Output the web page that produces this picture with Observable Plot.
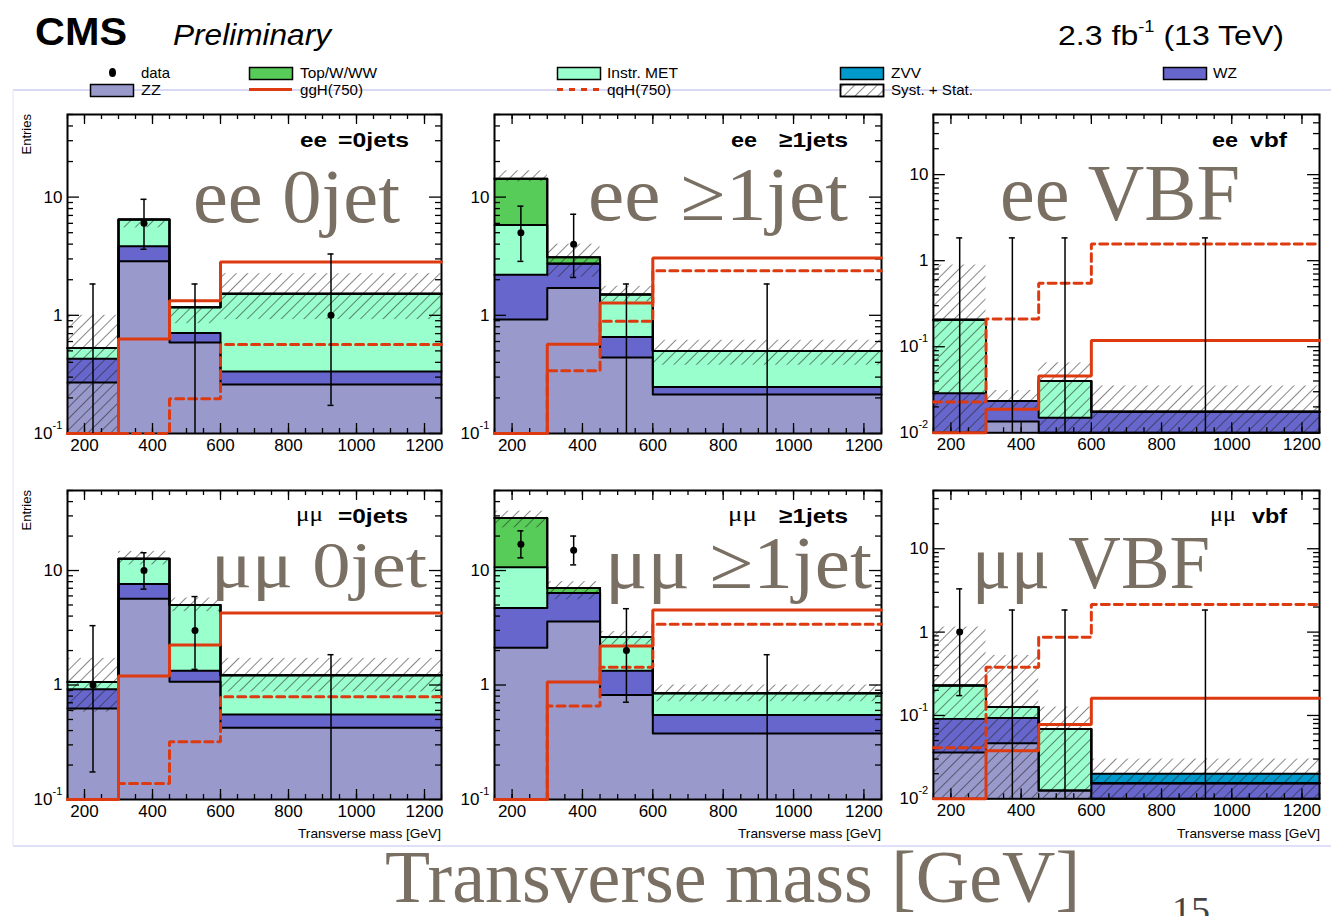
<!DOCTYPE html>
<html><head><meta charset="utf-8">
<script src="https://cdn.jsdelivr.net/npm/d3@7"></script>
<script src="https://cdn.jsdelivr.net/npm/@observablehq/plot@0.6"></script>
<style>
html,body{margin:0;padding:0;background:#fff}
body{width:1331px;height:916px;position:relative;overflow:hidden;font-family:"Liberation Sans",Arial,sans-serif}
.panel{position:absolute}
#overlay{position:absolute;left:0;top:0;pointer-events:none}
</style></head><body>
<script>
// ---------------- data ----------------
const binEdges = [150, 300, 450, 600, 1250];
const binCenters = [225, 375, 525, 925];
const panelLepton = ["ee", "ee", "ee", "μμ", "μμ", "μμ"];
const panelCategory = ["=0jets", "≥1jets", "vbf", "=0jets", "≥1jets", "vbf"];
const panelOverlay = ["ee 0jet", "ee ≥1jet", "ee VBF", "μμ 0jet", "μμ ≥1jet", "μμ VBF"];
const yMin = [0.1, 0.1, 0.01, 0.1, 0.1, 0.01];
const yMax = 50;
const xTickLabels = [200, 400, 600, 800, 1000, 1200];
const yTickValues = [0.01, 0.1, 1, 10];
const yTickBase = ["10", "10", "1", "10"];
const yTickExp = ["-2", "-1", "", ""];

const processNames = ["ZZ", "WZ", "Instr. MET", "Top/W/WW", "ZVV"];
const processColors = ["#9999cc", "#6666cc", "#99ffcc", "#58cc58", "#0099cc"];
const signalColor = "#dd3a10";

// yields per panel (rows) and bin (columns)
const ZZ = [
  [0.27, 2.87, 0.59, 0.26],
  [0.92, 1.70, 0.44, 0.214],
  [0, 0.0135, 0, 0],
  [0.625, 5.66, 1.07, 0.423],
  [2.12, 3.58, 0.82, 0.378],
  [0.036, 0.0465, 0.0126, 0]
];
const WZ = [
  [0.16, 0.97, 0.12, 0.075],
  [1.28, 1.03, 0.216, 0.034],
  [0.0288, 0.0099, 0.015, 0.0175],
  [0.292, 1.96, 0.26, 0.131],
  [2.58, 2.77, 0.51, 0.168],
  [0.055, 0.0465, 0, 0.0154]
];
const InstrMET = [
  [0.10, 2.62, 0.46, 1.19],
  [3.6, 0.02, 0.844, 0.252],
  [0.177, 0, 0.025, 0],
  [0.143, 5.08, 3.67, 0.666],
  [6.0, 0, 1.29, 0.30],
  [0.138, 0.033, 0.0564, 0]
];
const TopWWW = [
  [0, 0, 0, 0],
  [8.5, 0.35, 0, 0],
  [0, 0, 0, 0],
  [0, 0, 0, 0],
  [18.1, 0.68, 0, 0],
  [0, 0, 0, 0]
];
const ZVV = [
  [0, 0, 0, 0],
  [0, 0, 0, 0],
  [0, 0, 0, 0],
  [0, 0, 0, 0],
  [0, 0, 0, 0],
  [0, 0, 0, 0.0046]
];
const systLo = [
  [0, 5.5, 0.85, 0.92],
  [13.5, 2.1, 1.3, 0.378],
  [0, 0.019, 0, 0],
  [0.58, 11.2, 4.38, 0.87],
  [23.6, 5.55, 2.24, 0.715],
  [0, 0, 0, 0]
];
const systHi = [
  [1.0, 6.5, 1.17, 2.25],
  [16.7, 4.0, 1.76, 0.615],
  [0.89, 0.031, 0.065, 0.035],
  [1.71, 14.7, 5.75, 1.71],
  [33, 8.0, 2.93, 1.0],
  [1.15, 0.525, 0.126, 0.03]
];
const ggH750 = [
  [0, 0.63, 1.33, 2.82],
  [0, 0.57, 1.27, 3.05],
  [0, 0.0188, 0.0456, 0.118],
  [0, 1.2, 2.24, 4.25],
  [0, 1.06, 2.19, 4.53],
  [0, 0.0377, 0.078, 0.161]
];
const qqH750 = [
  [0, 0, 0.197, 0.565],
  [0, 0.34, 0.89, 2.38],
  [0.0228, 0.21, 0.547, 1.56],
  [0, 0.138, 0.319, 0.79],
  [0, 0.655, 1.43, 3.4],
  [0.041, 0.38, 0.87, 2.15]
];
const dataN = [
  [0, 6, 0, 1],
  [5, 4, 0, 0],
  [0, 0, 0, 0],
  [1, 10, 3, 0],
  [17, 15, 2, 0],
  [1, 0, 0, 0]
];
const dataLo = [
  [0, 3.62, 0, 0.173],
  [2.86, 2.09, 0, 0],
  [0, 0, 0, 0],
  [0.174, 6.88, 1.37, 0],
  [12.9, 11.2, 0.708, 0],
  [0.173, 0, 0, 0]
];
const dataHi = [
  [1.84, 9.58, 1.84, 3.30],
  [8.38, 7.16, 1.84, 1.84],
  [1.84, 1.84, 1.84, 1.84],
  [3.30, 14.3, 5.92, 1.84],
  [22.2, 20.0, 4.64, 1.84],
  [3.30, 1.84, 1.84, 1.84]
];

// ---------------- layout ----------------
const cols = [[67, 441], [494, 881], [933, 1320]];
const rows = [[114, 433], [490, 799]];
const layers = [ZZ, WZ, InstrMET, TopWWW, ZVV];
const FONT = "'Liberation Sans', Arial, Helvetica, sans-serif";
const SERIF = "'Liberation Serif', 'DejaVu Serif', Times, serif";

function addHatch(svg, id, color) {
  const pat = d3.select(svg).insert("defs", ":first-child")
    .append("pattern").attr("id", id).attr("patternUnits", "userSpaceOnUse")
    .attr("width", 8).attr("height", 8).attr("patternTransform", "rotate(45)");
  pat.append("line").attr("x1", 0).attr("y1", 0).attr("x2", 0).attr("y2", 8)
    .attr("stroke", color).attr("stroke-width", 1.1);
}

function makePanel(p) {
  const col = cols[p % 3], row = rows[Math.floor(p / 3)];
  const W = col[1] - col[0], H = row[1] - row[0];
  const mL = 62, mR = 12, mT = 6, mB = 30;
  const ymin = yMin[p];
  const cl = v => Math.max(v, ymin);

  const rects = [], outlines = [];
  const cum = [0, 0, 0, 0];
  layers.forEach((L, j) => {
    for (let i = 0; i < 4; i++) {
      const lo = cum[i], hi = cum[i] + L[p][i];
      rects.push({layer: j, x1: binEdges[i], x2: binEdges[i + 1], y1: cl(lo), y2: cl(hi)});
      outlines.push({layer: j, x: binEdges[i], y: cl(hi)}, {layer: j, x: binEdges[i + 1], y: cl(hi)});
      cum[i] = hi;
    }
  });
  const hatch = [0, 1, 2, 3].map(i => ({x1: binEdges[i], x2: binEdges[i + 1], y1: cl(systLo[p][i]), y2: cl(systHi[p][i])}));
  const step = arr => arr.flatMap((v, i) => [{x: binEdges[i], y: cl(v)}, {x: binEdges[i + 1], y: cl(v)}]);
  const sigG = step(ggH750[p]), sigQ = step(qqH750[p]);
  const dat = [0, 1, 2, 3].map(i => ({x: binCenters[i], n: dataN[p][i], lo: cl(dataLo[p][i]), hi: dataHi[p][i]}));
  const datPos = dat.filter(d => d.n > 0);

  const xMinor = d3.range(binEdges[0], binEdges[4] + 1, 50);
  const decades = yTickValues.filter(v => v >= ymin && v <= yMax);
  const yMinor = [];
  for (const d of [0.01, 0.1, 1, 10]) for (let k = 2; k <= 9; k++) { const v = d * k; if (v > ymin && v <= yMax) yMinor.push(v); }
  const labels = yTickValues.map((v, i) => ({v, base: yTickBase[i], exp: yTickExp[i]})).filter(d => d.v >= ymin && d.v <= yMax);

  const tick = (data, opts) => Plot.ruleX(data, {x: d => d, stroke: "black", strokeWidth: 1.3, ...opts});
  const tickY = (data, opts) => Plot.ruleY(data, {y: d => d, stroke: "black", strokeWidth: 1.3, ...opts});

  const svg = Plot.plot({
    width: W + mL + mR, height: H + mT + mB,
    marginLeft: mL, marginRight: mR, marginTop: mT, marginBottom: mB,
    style: {fontFamily: FONT, background: "transparent", overflow: "visible"},
    x: {domain: [binEdges[0], binEdges[4]], axis: null},
    y: {type: "log", domain: [ymin, yMax], axis: null},
    marks: [
      ...processColors.map((c, j) => Plot.rect(rects.filter(d => d.layer === j), {x1: "x1", x2: "x2", y1: "y1", y2: "y2", fill: c, shapeRendering: "crispEdges"})),
      Plot.rect(hatch, {x1: "x1", x2: "x2", y1: "y1", y2: "y2", fill: `url(#hatch${p})`}),
      Plot.line(outlines, {x: "x", y: "y", z: "layer", stroke: "black", strokeWidth: 2}),
      Plot.frame({stroke: "black", strokeWidth: 2}),
      tick(xMinor, {insetTop: H - 5}),
      tick(xTickLabels, {insetTop: H - 10}),
      tick(xMinor, {insetBottom: H - 5}),
      tick(xTickLabels, {insetBottom: H - 10}),
      tickY(yMinor, {insetRight: W - 6}),
      tickY(decades, {insetRight: W - 12}),
      tickY(yMinor, {insetLeft: W - 6}),
      tickY(decades, {insetLeft: W - 12}),
      Plot.line(sigG, {x: "x", y: "y", stroke: signalColor, strokeWidth: 3, strokeLinejoin: "miter"}),
      Plot.line(sigQ, {x: "x", y: "y", stroke: signalColor, strokeWidth: 3, strokeDasharray: "8,5", strokeLinejoin: "miter"}),
      Plot.ruleX(dat, {x: "x", y1: "lo", y2: "hi", stroke: "black", strokeWidth: 1.5}),
      Plot.ruleY(dat, {y: "hi", x1: "x", x2: "x", insetLeft: -3, insetRight: -3, stroke: "black", strokeWidth: 1.5}),
      Plot.ruleY(datPos, {y: "lo", x1: "x", x2: "x", insetLeft: -3, insetRight: -3, stroke: "black", strokeWidth: 1.5}),
      Plot.dot(datPos, {x: "x", y: "n", r: 3.5, fill: "black", stroke: "none"}),
      Plot.text(xTickLabels, {x: d => d, text: d => String(d), frameAnchor: "bottom", lineAnchor: "top", dy: 5, fontSize: 17, fontFamily: FONT, fill: "black"}),
      Plot.text(labels.filter(d => !d.exp), {y: "v", text: "base", frameAnchor: "left", textAnchor: "end", dx: -5, fontSize: 17, fontFamily: FONT, fill: "black"}),
      Plot.text(labels.filter(d => d.exp), {y: "v", text: "base", frameAnchor: "left", textAnchor: "end", dx: -15, fontSize: 17, fontFamily: FONT, fill: "black"}),
      Plot.text(labels.filter(d => d.exp), {y: "v", text: "exp", frameAnchor: "left", textAnchor: "start", dx: -15, dy: -8, fontSize: 11, fontFamily: FONT, fill: "black"})
    ]
  });
  addHatch(svg, `hatch${p}`, "#222");
  const div = document.createElement("div");
  div.className = "panel";
  div.style.left = (col[0] - mL) + "px";
  div.style.top = (row[0] - mT) + "px";
  div.appendChild(svg);
  document.body.appendChild(div);
}
for (let p = 0; p < 6; p++) makePanel(p);

// ---------------- overlay: titles, legend, labels ----------------
const ov = d3.select("body").append("svg").attr("id", "overlay").attr("width", 1331).attr("height", 916);
addHatch(ov.node(), "hatchLeg", "#222");
function txt(s, x, y, size, o = {}) {
  const t = ov.append("text").attr("x", x).attr("y", y).attr("font-size", size)
    .attr("font-family", o.family || FONT).attr("fill", o.fill || "black")
    .attr("font-weight", o.weight || "normal").attr("font-style", o.style || "normal").text(s);
  if (o.width) t.attr("textLength", o.width).attr("lengthAdjust", "spacingAndGlyphs");
  if (o.rotate) t.attr("transform", `rotate(-90 ${x} ${y})`).attr("text-anchor", "end");
  return t;
}
// slide frame lines
ov.append("line").attr("x1", 13).attr("x2", 1331).attr("y1", 90).attr("y2", 90).attr("stroke", "#ccccf2").attr("stroke-width", 1.5);
ov.append("line").attr("x1", 13).attr("x2", 1331).attr("y1", 846).attr("y2", 846).attr("stroke", "#d4d4f4").attr("stroke-width", 1.5);
ov.append("line").attr("x1", 13).attr("x2", 13).attr("y1", 90).attr("y2", 846).attr("stroke", "#ececfa").attr("stroke-width", 1.5);

// title
txt("CMS", 35, 45, 39, {weight: "bold", width: 92});
txt("Preliminary", 173, 45, 29, {style: "italic", width: 158});
const lumi = ov.append("text").attr("x", 1058).attr("y", 45).attr("font-size", 28).attr("font-family", FONT).attr("fill", "black")
  .attr("textLength", 226).attr("lengthAdjust", "spacingAndGlyphs");
lumi.append("tspan").text("2.3 fb");
lumi.append("tspan").attr("dy", -13).attr("font-size", 16).text("-1");
lumi.append("tspan").attr("dy", 13).text(" (13 TeV)");

// legend
const legBox = (x, y, fill) => ov.append("rect").attr("x", x).attr("y", y).attr("width", 43).attr("height", 12)
  .attr("fill", fill).attr("stroke", "black").attr("stroke-width", 1.5);
ov.append("ellipse").attr("cx", 112.5).attr("cy", 72.5).attr("rx", 3.5).attr("ry", 4.5).attr("fill", "black");
txt("data", 141, 77.5, 15, {width: 29});
legBox(90.5, 84.5, processColors[0]); txt(processNames[0], 141, 95, 15, {width: 20});
legBox(249.5, 67.5, processColors[3]); txt(processNames[3], 300, 78, 15, {width: 77});
ov.append("line").attr("x1", 249).attr("x2", 292).attr("y1", 89.5).attr("y2", 89.5).attr("stroke", signalColor).attr("stroke-width", 3);
txt("ggH(750)", 300, 95, 15, {width: 63});
legBox(557.5, 67.5, processColors[2]); txt(processNames[2], 607, 78, 15, {width: 71});
ov.append("line").attr("x1", 557).attr("x2", 600).attr("y1", 89.5).attr("y2", 89.5).attr("stroke", signalColor).attr("stroke-width", 3).attr("stroke-dasharray", "6,6");
txt("qqH(750)", 607, 95, 15, {width: 64});
legBox(840.5, 67.5, processColors[4]); txt(processNames[4], 891, 78, 15, {width: 30});
legBox(840.5, 84.5, "#fff"); legBox(840.5, 84.5, "url(#hatchLeg)");
txt("Syst. + Stat.", 891, 95, 15, {width: 82});
legBox(1163.5, 67.5, processColors[1]); txt(processNames[1], 1213, 78, 15, {width: 24});

// y titles
txt("Entries", 31, 114, 13, {rotate: true});
txt("Entries", 31, 490, 13, {rotate: true});

// panel headers
const hdr = [
  [300, 27, 338, 71, 147], [731, 26, 779, 69, 147], [1212, 26, 1250, 37, 147],
  [296, 27, 338, 70, 523], [728, 29, 779, 69, 523], [1210, 26, 1252, 35, 523]
];
hdr.forEach((h, p) => {
  const lep = panelLepton[p];
  if (lep === "ee") txt(lep, h[0], h[4], 21, {weight: "bold", width: h[1]});
  else txt(lep, h[0], h[4] - 2, 21, {family: SERIF, width: h[1]});
  txt(panelCategory[p], h[2], h[4], 21, {weight: "bold", width: h[3]});
});

// x titles under bottom row
cols.forEach(c => txt("Transverse mass [GeV]", c[1] - 143, 838, 13, {width: 143}));

// big overlay annotations
const ovColor = "#7a6f63";
const big = [[193, 222, 207, 76], [588, 220, 260, 76], [1000, 220, 240, 80], [211, 587, 216, 66], [605, 588, 267, 74], [972, 588, 238, 76]];
big.forEach((b, p) => txt(panelOverlay[p], b[0], b[1], b[3], {family: SERIF, fill: ovColor, width: b[2]}));
txt("Transverse mass [GeV]", 385, 902, 74, {family: SERIF, fill: ovColor, width: 695});
txt("15", 1172, 922, 36, {family: SERIF, fill: "#444", width: 38});
</script>
</body></html>
